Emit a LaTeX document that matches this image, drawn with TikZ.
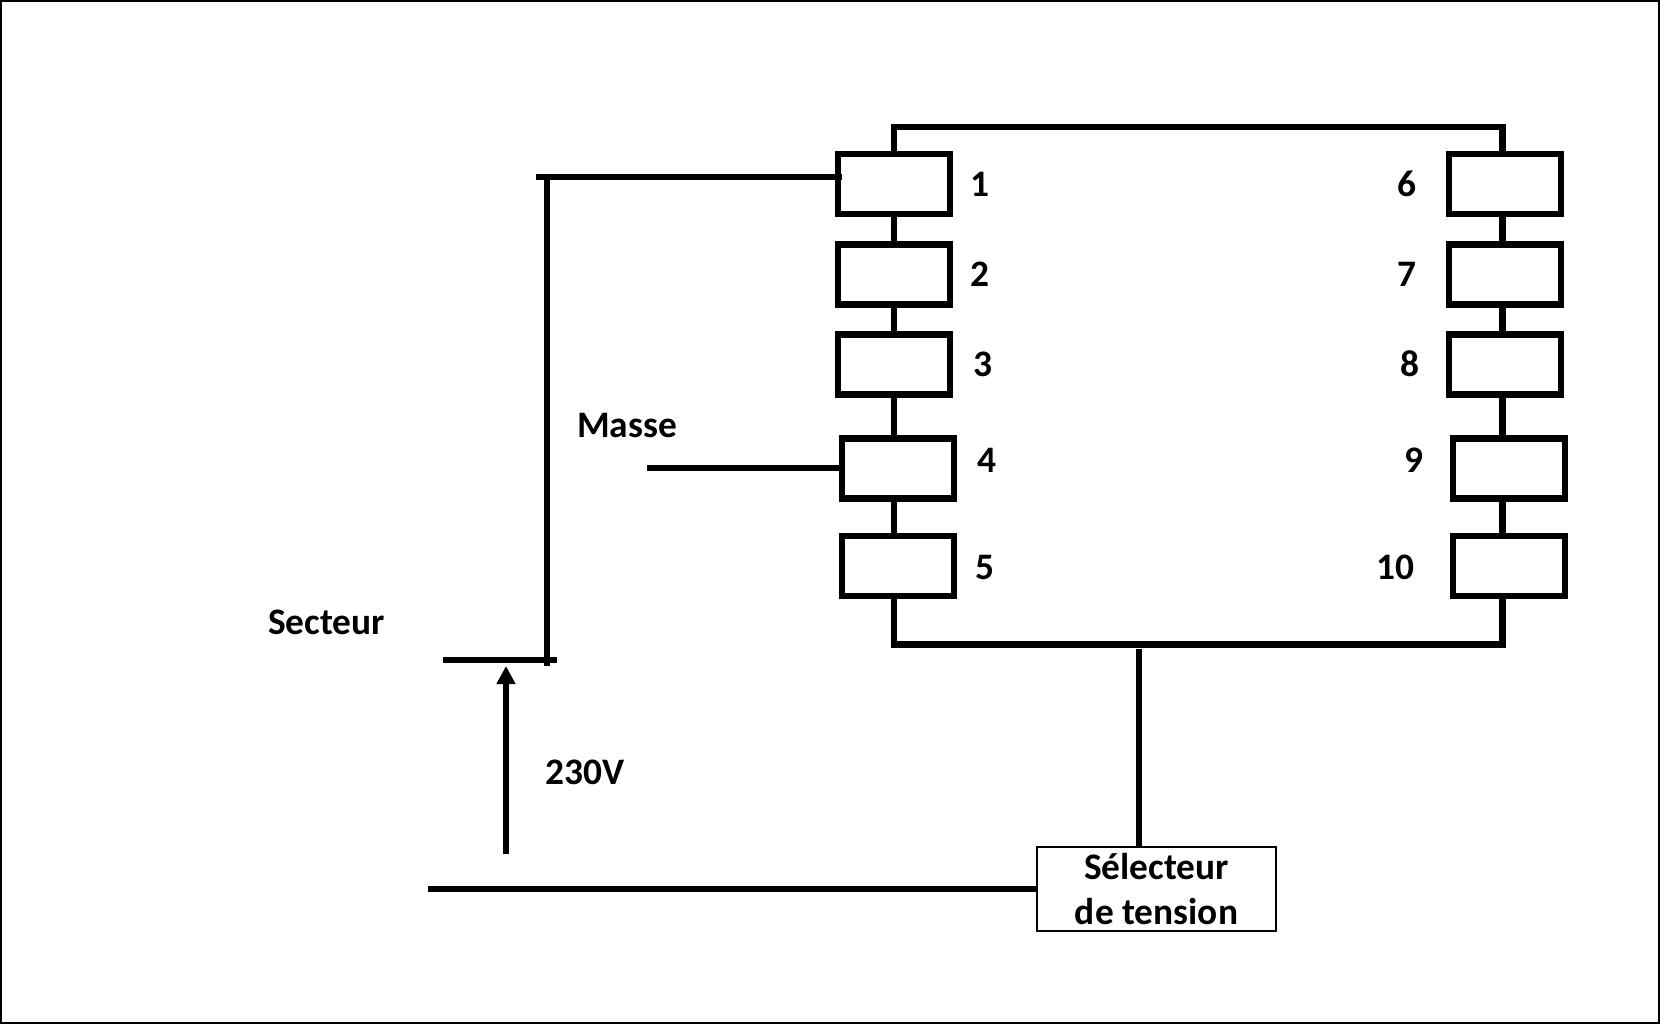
\documentclass[tikz,border=0pt]{standalone}
\usepackage{fontspec}
\setmainfont{Carlito}
\usetikzlibrary{arrows.meta}
\tikzstyle{borne} = [draw=black, line width=3.1pt, rectangle, minimum width=56pt, minimum height=30pt, inner sep=0pt]
\tikzstyle{fil} = [draw=black, line width=3.1pt]
\tikzstyle{etiquette} = [inner sep=0pt, font=\fontsize{18.7}{22.5}\selectfont\bfseries]
\tikzstyle{selecteur} = [draw=black, line width=1pt, rectangle, minimum width=119.5pt, minimum height=42pt, inner sep=0pt, align=center, font=\fontsize{18.7}{22.5}\selectfont\bfseries]
\begin{document}
\begin{tikzpicture}[x=0.5pt,y=-0.5pt]
	\useasboundingbox (0,0) rectangle (1660,1024);
	\draw[line width=1pt, black] (1,1) rectangle (1659,1023);
	% bornes gauche
	\node[borne] (b1) at (894,184) {};
	\node[borne] (b2) at (894,274.5) {};
	\node[borne] (b3) at (894,364.5) {};
	\node[borne] (b4) at (898,468.5) {};
	\node[borne] (b5) at (898,566) {};
	% bornes droite
	\node[borne] (b6) at (1505,184) {};
	\node[borne] (b7) at (1505,274.5) {};
	\node[borne] (b8) at (1505,364.5) {};
	\node[borne] (b9) at (1509,468.5) {};
	\node[borne] (b10) at (1509,566) {};
	% numeros
	\node[etiquette] (n1) at (980,184) {1};
	\node[etiquette] (n2) at (980,274) {2};
	\node[etiquette] (n3) at (983,364) {3};
	\node[etiquette] (n4) at (986.5,460) {4};
	\node[etiquette] (n5) at (985,567) {5};
	\node[etiquette] (n6) at (1407,184) {6};
	\node[etiquette] (n7) at (1407,274) {7};
	\node[etiquette] (n8) at (1410,364) {8};
	\node[etiquette] (n9) at (1413.5,460) {9};
	\node[etiquette] (n10) at (1395,567) {10};
	\node[etiquette] (masse) at (627,425) {Masse};
	\node[etiquette] (secteur) at (326.5,622) {Secteur};
	\node[etiquette] (tension) at (585,772) {230V};
	\node[selecteur] (sel) at (1156.5,889) {S\'electeur\\de tension};
	% points libres
	\coordinate (haut) at (894,127);
	\coordinate (bas) at (894,644.5);
	\coordinate (droite) at (1502.5,644.5);
	\coordinate (entree) at (536,177);
	\coordinate (coude) at (547,177);
	\coordinate (fin) at (547,666);
	\coordinate (secA) at (443,660);
	\coordinate (secB) at (557,660);
	\coordinate (retour) at (428,889);
	\coordinate (piedmasse) at (647,468);
	\coordinate (pied) at (506,854);
	\coordinate (pointe) at (506,666);
	\coordinate (depart) at (1139,649);
	% liaisons
	\draw[fil] (b1.north) |- (haut) -| (b6.north -| droite);
	\draw[fil] (b5.south -| bas) -- (bas) -- (droite) -- (b10.south -| droite);
	\draw[fil] (b1.south) -- (b2.north);
	\draw[fil] (b2.south) -- (b3.north);
	\draw[fil] (b3.south) -- (b3.south |- b4.north);
	\draw[fil] (b4.south -| bas) -- (b5.north -| bas);
	\draw[fil] (b6.south -| droite) -- (b7.north -| droite);
	\draw[fil] (b7.south -| droite) -- (b8.north -| droite);
	\draw[fil] (b8.south -| droite) -- (b9.north -| droite);
	\draw[fil] (b9.south -| droite) -- (b10.north -| droite);
	\draw[fil] (entree) -- ([xshift=3.6pt]b1.west |- entree);
	\draw[fil] (coude) -- (fin);
	\draw[fil] (secA) -- (secB);
	\draw[fil] (piedmasse) -- (b4.west |- piedmasse);
	\draw[fil] (retour) -- (sel.west |- retour);
	\draw[fil] (depart) -- (depart |- sel.north);
	\draw[fil, -{Triangle[width=9pt,length=9pt]}] (pied) -- (pointe);
\end{tikzpicture}
\end{document}
